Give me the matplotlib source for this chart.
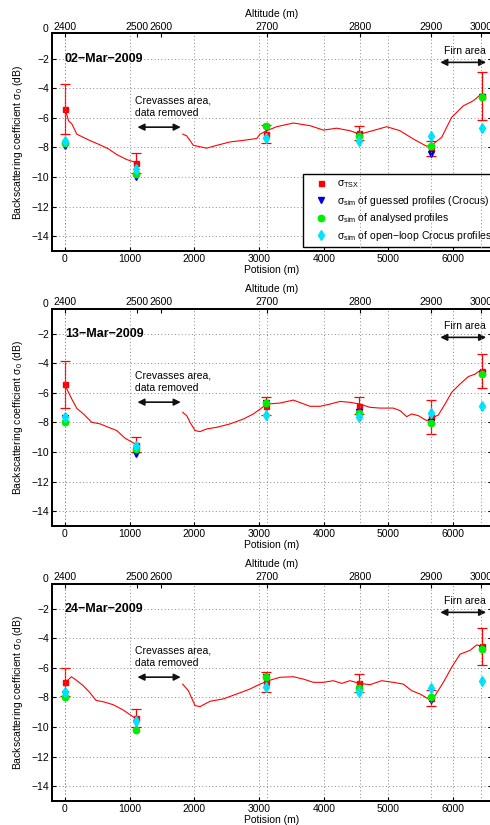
import numpy as np
import matplotlib
matplotlib.use("Agg")
import matplotlib.pyplot as plt
from matplotlib.transforms import blended_transform_factory

plt.rcParams['font.family'] = ['Liberation Sans', 'DejaVu Sans']
plt.rcParams['mathtext.fontset'] = 'custom'
plt.rcParams['mathtext.rm'] = 'Liberation Sans'
plt.rcParams['mathtext.it'] = 'Liberation Sans:italic'
plt.rcParams['axes.unicode_minus'] = True

# measurement positions along the profile (m)
positions = [0, 1100, 3100, 4550, 5650, 6450]

# top axis: altitude ticks
alt_pos = [0, 1115, 1490, 3120, 4560, 5655, 6425]
alt_labels = ['2400', '2500', '2600', '2700', '2800', '2900', '3000']

dates = ['02\u2212Mar\u22122009', '13\u2212Mar\u22122009', '24\u2212Mar\u22122009']

# 02-Mar-2009
tsx_1 = [-5.4, -9.05, -7.1, -7.03, -8.05, -4.52]
err_1 = [1.67, 0.7, 0.6, 0.45, 0.5, 1.6]
guess_1 = [-7.88, -10.0, -6.6, -7.2, -8.44, -4.56]
anal_1 = [-7.72, -9.78, -6.58, -7.25, -7.92, -4.56]
open_1 = [-7.54, -9.45, -7.36, -7.54, -7.25, -6.69]
curve_x_1 = [15, 40, 55, 106, 183, 260, 389, 543, 672, 800, 955, 1084, np.nan,
             1821, 1882, 1985, 2191, 2345, 2551, 2757, 2963, 3015, 3118, 3272,
             3530, 3788, 3994, 4200, 4405, 4559, 4714, 4972, 5178, 5384, 5590,
             5693, 5822, 5976, 6156, 6311, 6430]
curve_v_1 = [-5.6, -5.95, -6.2, -6.4, -7.1, -7.27, -7.54, -7.83, -8.1, -8.48, -8.82, -9.0, np.nan,
             -7.1, -7.22, -7.86, -8.05, -7.86, -7.63, -7.52, -7.4, -7.1, -6.87, -6.6,
             -6.35, -6.53, -6.83, -6.7, -6.87, -7.1, -6.92, -6.6, -6.87, -7.43, -7.92,
             -7.76, -7.32, -5.97, -5.19, -4.85, -4.4]

# 13-Mar-2009
tsx_2 = [-5.42, -9.5, -6.88, -6.87, -7.65, -4.52]
err_2 = [1.6, 0.5, 0.59, 0.57, 1.15, 1.13]
guess_2 = [-7.72, -10.1, -6.7, -7.3, -8.0, -4.7]
anal_2 = [-7.95, -9.78, -6.71, -7.36, -8.06, -4.7]
open_2 = [-7.61, -9.56, -7.48, -7.65, -7.36, -6.87]
curve_x_2 = [15, 55, 106, 183, 286, 415, 544, 673, 801, 930, 1084, np.nan,
             1820, 1882, 1933, 2010, 2088, 2191, 2345, 2551, 2757, 2911, 3015,
             3118, 3324, 3530, 3788, 3942, 4097, 4251, 4405, 4559, 4714, 4868,
             5074, 5178, 5281, 5358, 5461, 5590, 5693, 5771, 5874, 5976, 6105,
             6234, 6337, 6430]
curve_v_2 = [-5.6, -5.97, -6.42, -7.05, -7.43, -7.99, -8.1, -8.33, -8.55, -9.07, -9.45, np.nan,
             -7.32, -7.54, -7.99, -8.55, -8.62, -8.44, -8.33, -8.1, -7.77, -7.43, -7.1,
             -6.76, -6.69, -6.49, -6.91, -6.91, -6.76, -6.58, -6.64, -6.76, -6.98, -7.03,
             -7.03, -7.2, -7.61, -7.43, -7.54, -7.88, -7.65, -7.5, -6.76, -5.97, -5.41,
             -4.9, -4.74, -4.45]

# 24-Mar-2009
tsx_3 = [-6.98, -9.38, -6.98, -7.03, -8.06, -4.55]
err_3 = [0.95, 0.6, 0.67, 0.6, 0.54, 1.27]
guess_3 = [-7.77, -9.7, -6.6, -7.4, -8.2, -4.7]
anal_3 = [-7.95, -10.23, -6.6, -7.36, -7.99, -4.7]
open_3 = [-7.61, -9.6, -7.32, -7.65, -7.36, -6.91]
curve_x_3 = [30, 100, 180, 280, 380, 480, 600, 750, 900, 1050, 1090, np.nan,
             1820, 1907, 2010, 2088, 2242, 2448, 2654, 2860, 3015, 3170, 3324,
             3530, 3684, 3839, 3994, 4148, 4277, 4405, 4559, 4714, 4894, 5074,
             5229, 5358, 5487, 5616, 5719, 5848, 5976, 6105, 6260, 6363, 6430]
curve_v_3 = [-6.9, -6.6, -6.85, -7.2, -7.65, -8.2, -8.3, -8.5, -8.85, -9.3, -9.4, np.nan,
             -7.1, -7.54, -8.55, -8.62, -8.26, -8.1, -7.77, -7.43, -7.1, -6.83, -6.64,
             -6.6, -6.76, -6.98, -6.98, -6.87, -7.05, -6.87, -7.05, -7.14, -6.87, -6.98,
             -7.1, -7.54, -7.77, -8.1, -7.88, -6.98, -5.97, -5.08, -4.82, -4.45, -4.52]

legend_labels = [
    r'σ$_{\mathrm{TSX}}$',
    r'σ$_{\mathrm{sim}}$ of guessed profiles (Crocus)',
    r'σ$_{\mathrm{sim}}$ of analysed profiles',
    r'σ$_{\mathrm{sim}}$ of open' + '\u2212' + 'loop Crocus profiles',
]

FS = 7.5


def draw_panel(ax, date, cx, cv, tsx, err, guess, anal, openl, show_legend=False):
    ax.set_xlim(-200, 6600)
    ax.set_ylim(-15, -0.3)
    ax.set_xticks([0, 1000, 2000, 3000, 4000, 5000, 6000])
    ax.set_yticks([-14, -12, -10, -8, -6, -4, -2])
    ax.grid(True, linestyle=(0, (1, 2.5)), color='#888888', linewidth=0.7)
    ax.tick_params(direction='in', length=3, width=0.8, labelsize=FS, pad=2,
                   top=False, right=True)
    for s in ax.spines.values():
        s.set_linewidth(1.3)

    # the "0" label at the top of the y axis
    tr = blended_transform_factory(ax.transAxes, ax.transData)
    ax.text(-0.008, 0, '0', transform=tr, ha='right', va='center', fontsize=FS, clip_on=False)

    ax.plot(cx, cv, color='red', lw=0.8, zorder=3)
    ax.errorbar(positions, tsx, yerr=err, fmt='none', ecolor='red', elinewidth=0.9,
                capsize=3.5, capthick=0.9, zorder=4)
    h1, = ax.plot(positions, tsx, 's', color='red', ms=3.6, zorder=5)
    h2, = ax.plot(positions, guess, 'v', color='#0000dd', ms=4.5, zorder=5)
    h3, = ax.plot(positions, anal, 'o', color='#00ee00', ms=4.6, zorder=6)
    h4, = ax.plot(positions, openl, 'd', color='#00e5ff', ms=5.5, zorder=7)

    ax.text(0, -2, date, fontsize=9, fontweight='bold', ha='left', va='center')
    ax.text(1080, -4.83, 'Crevasses area,', fontsize=FS, ha='left', va='center')
    ax.text(1080, -5.7, 'data removed', fontsize=FS, ha='left', va='center')
    ax.annotate('', xy=(1790, -6.63), xytext=(1120, -6.63),
                arrowprops=dict(arrowstyle='<|-|>', color='#111111', lw=1.2,
                                mutation_scale=10, shrinkA=0, shrinkB=0))
    ax.text(6180, -1.46, 'Firn area', fontsize=FS, ha='center', va='center')
    ax.annotate('', xy=(6510, -2.25), xytext=(5800, -2.25),
                arrowprops=dict(arrowstyle='<|-|>', color='#111111', lw=1.2,
                                mutation_scale=10, shrinkA=0, shrinkB=0))

    ax.set_xlabel('Potision (m)', fontsize=FS, labelpad=1)
    ax.set_ylabel('Backscattering coefficient σ$_0$ (dB)', fontsize=FS, labelpad=5)

    top = ax.twiny()
    top.set_xlim(ax.get_xlim())
    top.set_xticks(alt_pos)
    top.set_xticklabels(alt_labels)
    top.tick_params(direction='in', length=3, width=0.8, labelsize=FS, pad=1)
    top.grid(True, axis='x', linestyle=(0, (1, 2.5)), color='#888888', linewidth=0.7)
    for i, g in enumerate(top.xaxis.get_gridlines()):
        if i in (1, 2):
            g.set_visible(False)
    top.set_xlabel('Altitude (m)', fontsize=FS, labelpad=4)
    for s in top.spines.values():
        s.set_linewidth(1.3)

    if show_legend:
        leg = ax.legend(handles=[h1, h2, h3, h4], labels=legend_labels, loc='lower left',
                        bbox_to_anchor=(0.57, 0.018), borderaxespad=0, fontsize=FS,
                        fancybox=False, framealpha=1, edgecolor='black',
                        handlelength=2.6, handletextpad=0.27, labelspacing=0.35,
                        borderpad=0.4)
        leg.get_frame().set_linewidth(1.0)
        leg.set_zorder(10)


fig = plt.figure(figsize=(4.9, 8.25), dpi=100)
left = 52 / 490
width = 440 / 490
height = 217.5 / 825
bottoms = [1 - 251 / 825, 1 - 526 / 825, 1 - 801 / 825]

panels = [
    (curve_x_1, curve_v_1, tsx_1, err_1, guess_1, anal_1, open_1),
    (curve_x_2, curve_v_2, tsx_2, err_2, guess_2, anal_2, open_2),
    (curve_x_3, curve_v_3, tsx_3, err_3, guess_3, anal_3, open_3),
]

for i, p in enumerate(panels):
    ax = fig.add_axes([left, bottoms[i], width, height])
    draw_panel(ax, dates[i], *p, show_legend=(i == 0))

fig.savefig('out.png', dpi=100)
